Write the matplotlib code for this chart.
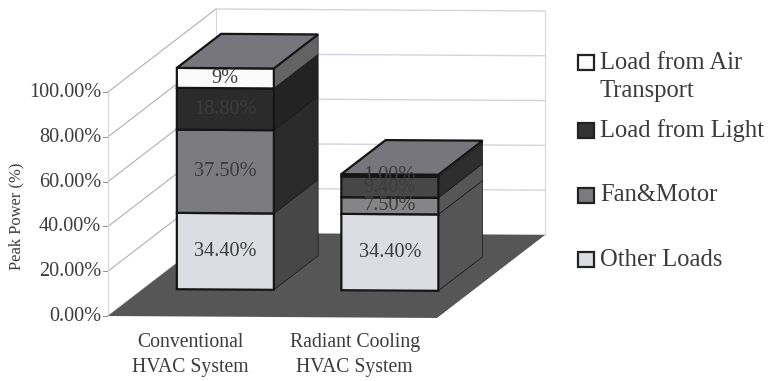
import numpy as np
import matplotlib.pyplot as plt

plt.rcParams['font.family'] = ['Liberation Serif', 'DejaVu Serif']

categories = ['Conventional\nHVAC System', 'Radiant Cooling\nHVAC System']
series_names = ['Other Loads', 'Fan&Motor', 'Load from Light', 'Load from Air\nTransport']
other_loads = [34.4, 34.4]
fan_motor = [37.5, 7.5]
light_load = [18.8, 9.4]
air_transport = [9.0, 1.0]
value_labels = [['34.40%', '37.50%', '18.80%', '9%'],
                ['34.40%', '7.50%', '9.40%', '1.00%']]
y_ticks = [0, 20, 40, 60, 80, 100]
y_tick_labels = ['0.00%', '20.00%', '40.00%', '60.00%', '80.00%', '100.00%']

# 3d look: oblique projection of (along floor, value, depth) to pixels
X0, Y0 = 108, 316
FLOOR_W = 329
DEPTH_X, DEPTH_Y = 108, 83
TILT = 0.006
K_AXIS = 2.24
K_BAR = 2.22
BAR_W = 97
BAR_D0, BAR_D1 = 0.325, 0.735

FRONT = [['#dcdde2', '#7c7c7e', '#2b2b2b', '#fbfbfb'],
         ['#dcdde2', '#858587', '#474747', '#f5f5f5']]
SIDE = [['#474747', '#2a2a2a', '#232323', '#636363'],
        ['#555555', '#565656', '#2e2e2e', '#555555']]
TOP = '#76767c'
FLOOR = '#565656'
GRID = '#d2d5dc'
EDGE = '#151515'
TEXT = '#3c3c3c'


def proj(u, v, d, k=K_AXIS):
    return X0 + u + d * DEPTH_X, Y0 - v * k - d * DEPTH_Y + TILT * u


def face(ax, pts, color, z, lw=1.6, edge=EDGE):
    xs, ys = zip(*pts)
    ax.fill(xs, ys, facecolor=color, edgecolor=edge, linewidth=lw, zorder=z, joinstyle='miter')


fig = plt.figure(figsize=(7.68, 3.81), dpi=100)
ax = fig.add_axes([0, 0, 1, 1])
ax.set_xlim(0, 768)
ax.set_ylim(381, 0)
ax.axis('off')

# walls and gridlines
for t, lab in zip(y_ticks, y_tick_labels):
    a = proj(0, t, 0)
    b = proj(0, t, 1)
    c = proj(FLOOR_W, t, 1)
    ax.plot([a[0], b[0]], [a[1], b[1]], color='#a4a6ac', lw=0.7, zorder=1)
    ax.plot([b[0], c[0]], [b[1], c[1]], color=GRID, lw=1.0, zorder=1)
    ax.plot([a[0] - 5, a[0]], [a[1], a[1]], color='#8e9096', lw=0.7, zorder=1)
    ax.text(a[0] - 7, a[1] + 0.5, lab, ha='right', va='center', fontsize=14.6, color=TEXT)
for u, d in [(0, 0), (0, 1), (FLOOR_W, 1)]:
    a = proj(u, 0, d)
    b = proj(u, 100, d)
    ax.plot([a[0], b[0]], [a[1], b[1]], color='#d4d7dd', lw=0.8, zorder=1)

# floor
face(ax, [proj(0, 0, 0), proj(FLOOR_W, 0, 0), proj(FLOOR_W, 0, 1), proj(0, 0, 1)],
     FLOOR, 2, lw=0, edge=FLOOR)

# stacked boxes
stack = np.array([other_loads, fan_motor, light_load, air_transport])
slot = FLOOR_W / len(categories)
for i in range(len(categories)):
    u0 = (i + 0.5) * slot - BAR_W / 2
    u1 = u0 + BAR_W
    base = 0.0
    for j in range(stack.shape[0]):
        top = base + stack[j, i]
        z = 3 + i
        face(ax, [proj(u1, base, BAR_D0, K_BAR), proj(u1, base, BAR_D1, K_BAR),
                  proj(u1, top, BAR_D1, K_BAR), proj(u1, top, BAR_D0, K_BAR)], SIDE[i][j], z, lw=0.5)
        face(ax, [proj(u0, base, BAR_D0, K_BAR), proj(u1, base, BAR_D0, K_BAR),
                  proj(u1, top, BAR_D0, K_BAR), proj(u0, top, BAR_D0, K_BAR)], FRONT[i][j], z + 0.1)
        base = top
    face(ax, [proj(u0, base, BAR_D0, K_BAR), proj(u1, base, BAR_D0, K_BAR),
              proj(u1, base, BAR_D1, K_BAR), proj(u0, base, BAR_D1, K_BAR)], TOP, 3 + i + 0.2)

    # value labels sit on top of everything, the thin segments overlap
    base = 0.0
    for j in range(stack.shape[0]):
        mid = base + stack[j, i] / 2
        px, py = proj((u0 + u1) / 2, mid, BAR_D0, K_BAR)
        ax.text(px, py, value_labels[i][j], ha='center', va='center', fontsize=14.6,
                color=TEXT, zorder=8)
        base += stack[j, i]

    cx = proj((u0 + u1) / 2, 0, 0)[0]
    ax.text(cx, 355, categories[i], ha='center', va='center', fontsize=14.2, color=TEXT,
            linespacing=1.4)

ax.text(16, 216, 'Peak Power (%)', rotation=90, ha='center', va='center', fontsize=11.9, color=TEXT)

# legend, drawn by hand since the entries are spaced unevenly
legend_y = [259, 195, 130, 62]
legend_text_y = [260, 195, 131, 77]
legend_colors = ['#dcdde2', '#7c7c7e', '#333333', '#fbfbfb']
for name, ly, ty, col in zip(series_names, legend_y, legend_text_y, legend_colors):
    ax.fill([578, 594, 594, 578], [ly - 7, ly - 7, ly + 8, ly + 8], facecolor=col,
            edgecolor='#222222', linewidth=1.6, zorder=5)
    ax.text(600, ty, name, ha='left', va='center', fontsize=17.7, color=TEXT, linespacing=1.35)

fig.savefig('out.png', dpi=100)
